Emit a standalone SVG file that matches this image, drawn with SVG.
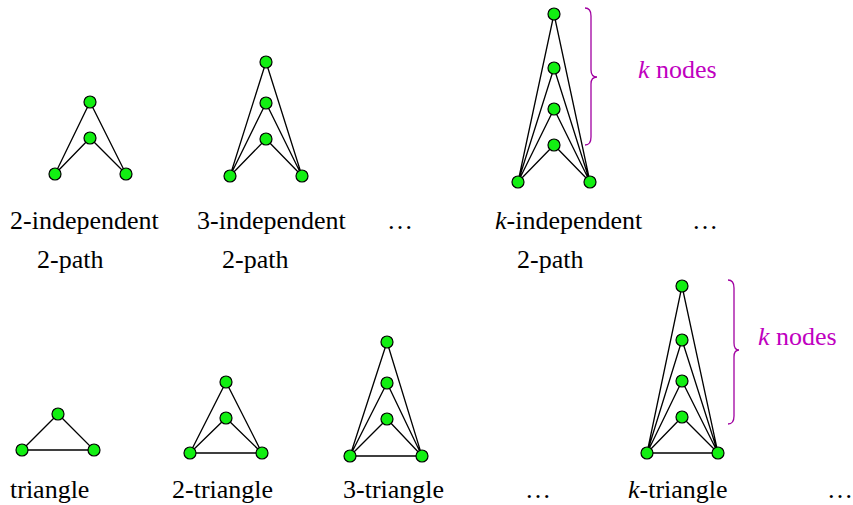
<svg xmlns="http://www.w3.org/2000/svg" width="853" height="505" viewBox="0 0 853 505">
<style>
.e{stroke:#000;stroke-width:1.3;fill:none}
.n{fill:#12ef12;stroke:#000;stroke-width:1.2}
.t{font-family:"Liberation Serif","Times New Roman",serif;font-size:26px;fill:#000}
.m{font-family:"Liberation Serif","Times New Roman",serif;font-size:26px;fill:#c000c0}
.b{stroke:#a000a0;stroke-width:1.3;fill:none}
</style>
<rect width="853" height="505" fill="#fff"/>
<g id="connectors">
<path class="e" d="M55,174L90,102L126,174M55,174L90,138L126,174"/>
<path class="e" d="M230,176L266,62L302,176M230,176L266,103L302,176M230,176L266,139L302,176"/>
<path class="e" d="M518,182L554,14L590,182M518,182L554,68L590,182M518,182L554,109L590,182M518,182L554,145L590,182"/>
<path class="e" d="M22,450L58,414L94,450Z"/>
<path class="e" d="M190,453L226,382L262,453ZM190,453L226,418L262,453"/>
<path class="e" d="M350,456L387,342L422,456ZM350,456L387,383L422,456M350,456L387,419L422,456"/>
<path class="e" d="M647,453L682,286L718,453ZM647,453L682,340L718,453M647,453L682,381L718,453M647,453L682,417L718,453"/>
<path class="b" d="M585,8Q591,8 591,16L591,70Q591,77 597,77Q591,77 591,84L591,137Q591,145 585,145"/>
<path class="b" d="M728,280Q734,280 734,288L734,343Q734,350 739,350Q734,350 734,357L734,416Q734,424 728,424"/>
</g>
<g id="g-2ind">
<circle class="n" cx="90" cy="102" r="6"/><circle class="n" cx="90" cy="138" r="6"/>
<circle class="n" cx="55" cy="174" r="6"/><circle class="n" cx="126" cy="174" r="6"/>
<text class="t" x="10" y="229">2-independent</text>
<text class="t" x="37" y="268">2-path</text>
</g>
<g id="g-3ind">
<circle class="n" cx="266" cy="62" r="6"/><circle class="n" cx="266" cy="103" r="6"/><circle class="n" cx="266" cy="139" r="6"/>
<circle class="n" cx="230" cy="176" r="6"/><circle class="n" cx="302" cy="176" r="6"/>
<text class="t" x="197" y="229">3-independent</text>
<text class="t" x="222" y="268">2-path</text>
</g>
<g id="dots1"><text class="t" x="387" y="229">…</text></g>
<g id="g-kind">
<circle class="n" cx="554" cy="14" r="6"/><circle class="n" cx="554" cy="68" r="6"/><circle class="n" cx="554" cy="109" r="6"/><circle class="n" cx="554" cy="145" r="6"/>
<circle class="n" cx="518" cy="182" r="6"/><circle class="n" cx="590" cy="182" r="6"/>
<text class="t" x="495" y="229"><tspan font-style="italic">k</tspan>-independent</text>
<text class="t" x="517" y="268">2-path</text>
<text class="m" x="638" y="78"><tspan font-style="italic">k</tspan> nodes</text>
</g>
<g id="dots2"><text class="t" x="692" y="229">…</text></g>
<g id="g-tri">
<circle class="n" cx="58" cy="414" r="6"/><circle class="n" cx="22" cy="450" r="6"/><circle class="n" cx="94" cy="450" r="6"/>
<text class="t" x="10" y="498">triangle</text>
</g>
<g id="g-2tri">
<circle class="n" cx="226" cy="382" r="6"/><circle class="n" cx="226" cy="418" r="6"/>
<circle class="n" cx="190" cy="453" r="6"/><circle class="n" cx="262" cy="453" r="6"/>
<text class="t" x="172" y="498">2-triangle</text>
</g>
<g id="g-3tri">
<circle class="n" cx="387" cy="342" r="6"/><circle class="n" cx="387" cy="383" r="6"/><circle class="n" cx="387" cy="419" r="6"/>
<circle class="n" cx="350" cy="456" r="6"/><circle class="n" cx="422" cy="456" r="6"/>
<text class="t" x="343" y="498">3-triangle</text>
</g>
<g id="dots3"><text class="t" x="525" y="498">…</text></g>
<g id="g-ktri">
<circle class="n" cx="682" cy="286" r="6"/><circle class="n" cx="682" cy="340" r="6"/><circle class="n" cx="682" cy="381" r="6"/><circle class="n" cx="682" cy="417" r="6"/>
<circle class="n" cx="647" cy="453" r="6"/><circle class="n" cx="718" cy="453" r="6"/>
<text class="t" x="628" y="498"><tspan font-style="italic">k</tspan>-triangle</text>
<text class="m" x="758" y="345"><tspan font-style="italic">k</tspan> nodes</text>
</g>
<g id="dots4"><text class="t" x="827" y="498">…</text></g>
</svg>
